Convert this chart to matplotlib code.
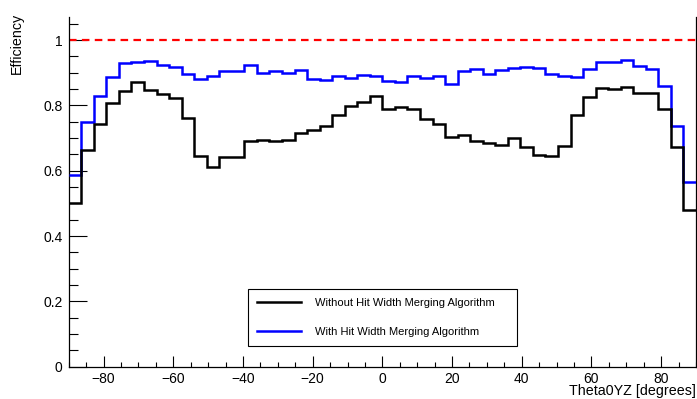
import numpy as np
import matplotlib
matplotlib.use("Agg")
import matplotlib.pyplot as plt
from matplotlib.ticker import MultipleLocator, FormatStrFormatter

plt.rcParams['font.family'] = ['Liberation Sans', 'DejaVu Sans']

# Binning of Theta0YZ: 50 bins from -90 to 90 degrees
bin_edges = np.linspace(-90, 90, 51)

eff_without_merging = [
    0.502, 0.663, 0.743, 0.806, 0.844, 0.870, 0.847, 0.834, 0.821, 0.760,
    0.645, 0.612, 0.641, 0.641, 0.692, 0.694, 0.692, 0.694, 0.716, 0.724,
    0.736, 0.770, 0.799, 0.809, 0.828, 0.788, 0.794, 0.789, 0.759, 0.743,
    0.704, 0.709, 0.692, 0.685, 0.680, 0.701, 0.673, 0.647, 0.644, 0.676,
    0.770, 0.825, 0.852, 0.849, 0.857, 0.837, 0.839, 0.789, 0.672, 0.480,
]

eff_with_merging = [
    0.587, 0.748, 0.829, 0.888, 0.931, 0.932, 0.935, 0.923, 0.916, 0.895,
    0.882, 0.890, 0.904, 0.904, 0.923, 0.898, 0.905, 0.898, 0.909, 0.880,
    0.879, 0.891, 0.885, 0.893, 0.891, 0.875, 0.872, 0.890, 0.884, 0.891,
    0.864, 0.905, 0.911, 0.896, 0.909, 0.915, 0.918, 0.913, 0.895, 0.891,
    0.886, 0.912, 0.934, 0.933, 0.938, 0.921, 0.911, 0.859, 0.737, 0.564,
]

label_without = "Without Hit Width Merging Algorithm"
label_with = "With Hit Width Merging Algorithm"
reference_eff = 1.0

fig = plt.figure(figsize=(6.97, 3.99), dpi=100)
ax = fig.add_axes([0.0986, 0.081, 0.9000, 0.876])

ax.stairs(eff_with_merging, bin_edges, color=(0, 0, 1), linewidth=1.8,
          baseline=None, label=label_with, zorder=3)
ax.stairs(eff_without_merging, bin_edges, color='black', linewidth=1.8,
          baseline=None, label=label_without, zorder=4)
ax.axhline(reference_eff, color='red', linewidth=1.6,
           linestyle=(0, (3.4, 2.4)), zorder=2)

ax.set_xlim(-90, 90)
ax.set_ylim(0, 1.07)

ax.xaxis.set_major_locator(MultipleLocator(20))
ax.xaxis.set_minor_locator(MultipleLocator(5))
ax.yaxis.set_major_locator(MultipleLocator(0.2))
ax.yaxis.set_minor_locator(MultipleLocator(0.05))
ax.yaxis.set_major_formatter(FormatStrFormatter('%g'))

ax.tick_params(axis='x', which='major', direction='in', length=7.7, width=0.8,
               labelsize=10, pad=3.5)
ax.tick_params(axis='x', which='minor', direction='in', length=3.4, width=0.8)
ax.tick_params(axis='y', which='major', direction='in', length=13, width=0.8,
               labelsize=10, pad=4.5)
ax.tick_params(axis='y', which='minor', direction='in', length=6.5, width=0.8)

ax.spines['top'].set_visible(False)
for side in ('left', 'bottom', 'right'):
    ax.spines[side].set_linewidth(0.9)

ax.set_xlabel("Theta0YZ [degrees]", fontsize=10.3, loc='right', labelpad=-0.8)
ax.set_ylabel("Efficiency", fontsize=10.3, loc='top')
ax.yaxis.set_label_coords(-0.071, 1.011)

handles, labels = ax.get_legend_handles_labels()
order = [labels.index(label_without), labels.index(label_with)]
leg = ax.legend([handles[i] for i in order], [labels[i] for i in order],
                loc='center', bbox_to_anchor=(0.356, 0.130, 0.386, 0.148),
                bbox_transform=fig.transFigure, mode='expand',
                borderaxespad=0, fontsize=8, frameon=True, fancybox=False,
                shadow=False, edgecolor='black', framealpha=1, borderpad=0.8,
                labelspacing=1.75, handlelength=4, handletextpad=1.2)
leg.get_frame().set_linewidth(0.8)

fig.savefig("out.png", dpi=100)
